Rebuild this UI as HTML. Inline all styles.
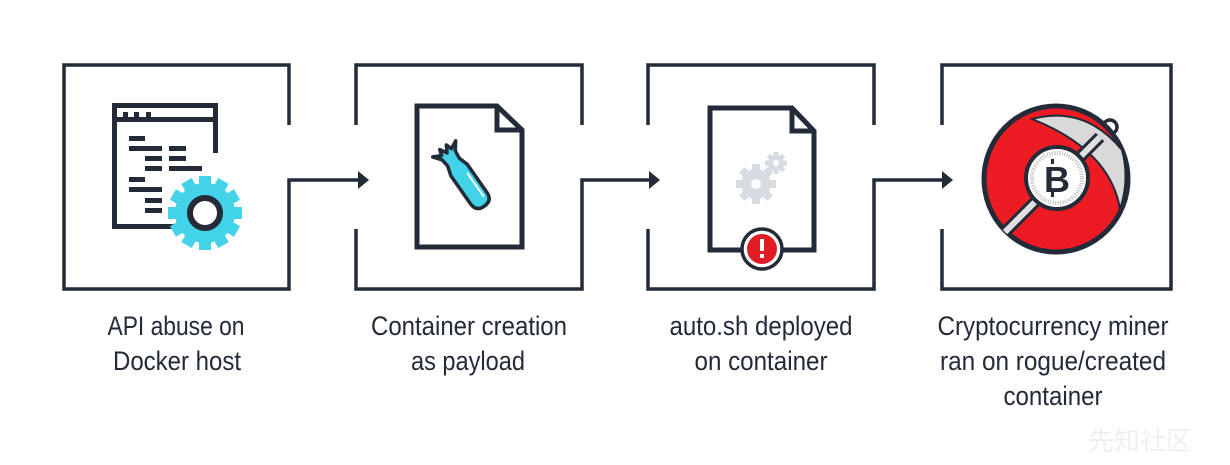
<!DOCTYPE html>
<html><head><meta charset="utf-8"><style>
html,body{margin:0;padding:0;background:#fff;}
svg{display:block;}
text{font-family:"Liberation Sans",sans-serif;fill:#232b38;font-size:27px;}
</style></head><body>
<svg width="1230" height="465" viewBox="0 0 1230 465" xmlns="http://www.w3.org/2000/svg">
<g fill="none" stroke="#232b38" stroke-width="3.5">
  <polyline points="289,125 289,65 64,65 64,289 289,289 289,180 366,180"/>
  <polyline points="356,125 356,65 582,65 582,125"/>
  <polyline points="356,229 356,289 582,289 582,180 657,180"/>
  <polyline points="648,125 648,65 874,65 874,125"/>
  <polyline points="648,229 648,289 874,289 874,180 950,180"/>
  <polyline points="942,125 942,65 1171,65 1171,289 942,289 942,229"/>
</g>
<g fill="#232b38">
  <polygon points="358,171 369,180 358,189"/>
  <polygon points="649,171 660,180 649,189"/>
  <polygon points="942,171 953,180 942,189"/>
</g>

<g fill="#232b38">
  <rect x="112" y="103" width="106" height="5"/>
  <rect x="112" y="103" width="5" height="126"/>
  <rect x="213" y="103" width="5" height="15"/>
  <rect x="112" y="117" width="106" height="5"/>
  <rect x="213" y="117" width="5" height="36"/>
  <rect x="112" y="224" width="62" height="5"/>
  <rect x="123" y="112" width="5" height="5"/><rect x="134" y="112" width="5" height="5"/><rect x="146" y="112" width="5" height="5"/>
  <rect x="129" y="136" width="16" height="5"/>
  <rect x="129" y="146" width="33" height="5"/><rect x="169" y="146" width="17" height="5"/>
  <rect x="145" y="156" width="17" height="5"/><rect x="169" y="156" width="17" height="5"/>
  <rect x="145" y="166" width="17" height="5"/><rect x="169" y="166" width="33" height="5"/>
  <rect x="129" y="177" width="16" height="5"/>
  <rect x="129" y="187" width="33" height="5"/>
  <rect x="145" y="198" width="17" height="5"/>
  <rect x="145" y="208" width="17" height="5"/>
</g>
<g transform="translate(205,213)">
  <g fill="#42d3e8">
    <circle r="30"/>
    <g id="t"><rect x="-6" y="-37" width="12" height="12"/></g>
    <use href="#t" transform="rotate(30)"/><use href="#t" transform="rotate(60)"/><use href="#t" transform="rotate(90)"/>
    <use href="#t" transform="rotate(120)"/><use href="#t" transform="rotate(150)"/><use href="#t" transform="rotate(180)"/>
    <use href="#t" transform="rotate(210)"/><use href="#t" transform="rotate(240)"/><use href="#t" transform="rotate(270)"/>
    <use href="#t" transform="rotate(300)"/><use href="#t" transform="rotate(330)"/>
  </g>
  <circle r="15" fill="#fff" stroke="#232b38" stroke-width="6"/>
</g>

<g fill="none" stroke="#232b38" stroke-width="5" stroke-linejoin="miter">
  <polygon points="417,106 497,106 522,130 522,247 417,247"/>
  <polyline points="497,106 497,130 522,130"/>
</g>
<g transform="translate(466,180) rotate(-35)">
  <path d="M-8,-30 L-14,-38 L-6,-34 L-4,-40 L0,-33 L4,-40 L6,-34 L14,-38 L8,-30 L7,-22 L10,-12 L10,22 Q10,32 0,32 Q-10,32 -10,22 L-10,-12 L-7,-22 Z" fill="#42d3e8" stroke="#232b38" stroke-width="3.5" stroke-linejoin="round"/>
  <line x1="5" y1="-5" x2="5" y2="24" stroke="#fff" stroke-width="2"/>
</g>

<g fill="none" stroke="#232b38" stroke-width="5">
  <polygon points="710,108 792,108 814,131 814,250 710,250"/>
  <polyline points="792,108 792,131 814,131"/>
</g>
<g transform="translate(756,184)" fill="#d5dde2">
  <circle r="15"/>
  <g id="g2"><rect x="-4" y="-20" width="8" height="8"/></g>
  <use href="#g2" transform="rotate(45)"/><use href="#g2" transform="rotate(90)"/><use href="#g2" transform="rotate(135)"/>
  <use href="#g2" transform="rotate(180)"/><use href="#g2" transform="rotate(225)"/><use href="#g2" transform="rotate(270)"/><use href="#g2" transform="rotate(315)"/>
  <circle r="5" fill="#fff"/>
</g>
<g transform="translate(776,163)" fill="#d5dde2">
  <circle r="8"/>
  <g id="g3"><rect x="-2.5" y="-11" width="5" height="5"/></g>
  <use href="#g3" transform="rotate(45)"/><use href="#g3" transform="rotate(90)"/><use href="#g3" transform="rotate(135)"/>
  <use href="#g3" transform="rotate(180)"/><use href="#g3" transform="rotate(225)"/><use href="#g3" transform="rotate(270)"/><use href="#g3" transform="rotate(315)"/>
  <circle r="3" fill="#fff"/>
</g>
<circle cx="762" cy="249" r="20" fill="#fff" stroke="#232b38" stroke-width="3.5"/>
<circle cx="762" cy="249" r="15" fill="#e01b24"/>
<rect x="760" y="239" width="4" height="12" fill="#fff"/>
<rect x="760" y="254" width="4" height="4" fill="#fff"/>

<circle cx="1110" cy="127" r="7" fill="#fff" stroke="#232b38" stroke-width="3.5"/>
<ellipse cx="1056" cy="179" rx="72" ry="73" fill="#ed1c24" stroke="#232b38" stroke-width="5"/>
<path d="M1032,119 Q1085,105 1122,150 Q1130,180 1120,209 Q1110,150 1032,119 Z" fill="#d9d9d9" stroke="#232b38" stroke-width="2"/>
<line x1="1005" y1="232" x2="1100" y2="137" stroke="#232b38" stroke-width="12"/>
<line x1="1005" y1="232" x2="1100" y2="137" stroke="#e0e0e0" stroke-width="6"/>
<circle cx="1057" cy="178" r="31" fill="#fff" stroke="#232b38" stroke-width="4"/>
<circle cx="1057" cy="178" r="25" fill="none" stroke="#bbb" stroke-width="4" stroke-dasharray="1 1.5"/>
<text x="1057" y="192" text-anchor="middle" style="font-family:'Liberation Sans',sans-serif;font-size:36px;font-weight:bold;">B</text>
<rect x="1051" y="159" width="3" height="5" fill="#232b38"/>
<rect x="1051" y="192" width="3" height="5" fill="#232b38"/>

<g text-anchor="middle" lengthAdjust="spacingAndGlyphs">
  <text x="176" y="335" textLength="137" lengthAdjust="spacingAndGlyphs">API abuse on</text>
  <text x="177" y="370" textLength="128" lengthAdjust="spacingAndGlyphs">Docker host</text>
  <text x="469" y="335" textLength="196" lengthAdjust="spacingAndGlyphs">Container creation</text>
  <text x="468" y="370" textLength="114" lengthAdjust="spacingAndGlyphs">as payload</text>
  <text x="761" y="335" textLength="183" lengthAdjust="spacingAndGlyphs">auto.sh deployed</text>
  <text x="761" y="370" textLength="133" lengthAdjust="spacingAndGlyphs">on container</text>
  <text x="1053" y="335" textLength="231" lengthAdjust="spacingAndGlyphs">Cryptocurrency miner</text>
  <text x="1053" y="370" textLength="226" lengthAdjust="spacingAndGlyphs">ran on rogue/created</text>
  <text x="1053" y="405" textLength="99" lengthAdjust="spacingAndGlyphs">container</text>
</g>
<text x="1140" y="450" text-anchor="middle" style="font-family:'Noto Sans CJK SC',sans-serif;font-size:26px;fill:#efefef;">先知社区</text>
</svg>
</body></html>
